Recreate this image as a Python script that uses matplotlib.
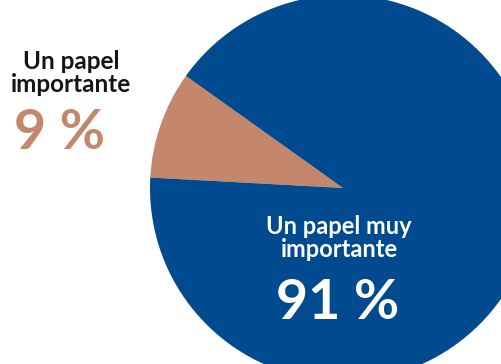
import matplotlib.pyplot as plt

labels = ['Un papel\nimportante', 'Un papel muy\nimportante']
values = [9, 91]
colors = ['#C4876B', '#004A8F']

W, H = 501, 364
fig = plt.figure(figsize=(W / 100, H / 100), dpi=100)
ax = fig.add_axes([0, 0, 1, 1])

cx, cy, r = 343, H - 188, 193
ax.pie(values, colors=colors, startangle=144.5, center=(cx, cy), radius=r,
       wedgeprops=dict(linewidth=0), frame=True)
ax.set_xlim(0, W)
ax.set_ylim(0, H)
ax.set_aspect('equal')
ax.axis('off')

font = 'Lato'
# small slice label, left of the pie
ax.text(71, H - 73, labels[0], ha='center', va='center', fontsize=17.5,
        fontweight='bold', family=font, color='#151515', linespacing=0.95)
ax.text(60, H - 133, f'{values[0]} %', ha='center', va='center', fontsize=40,
        fontweight='bold', family=font, color=colors[0])

# large slice label, inside the pie
ax.text(339, H - 238, labels[1], ha='center', va='center', fontsize=17,
        fontweight='bold', family=font, color='white', linespacing=0.95)
ax.text(338, H - 303, f'{values[1]} %', ha='center', va='center', fontsize=40,
        fontweight='bold', family=font, color='white')

fig.savefig('out.png', dpi=100)
